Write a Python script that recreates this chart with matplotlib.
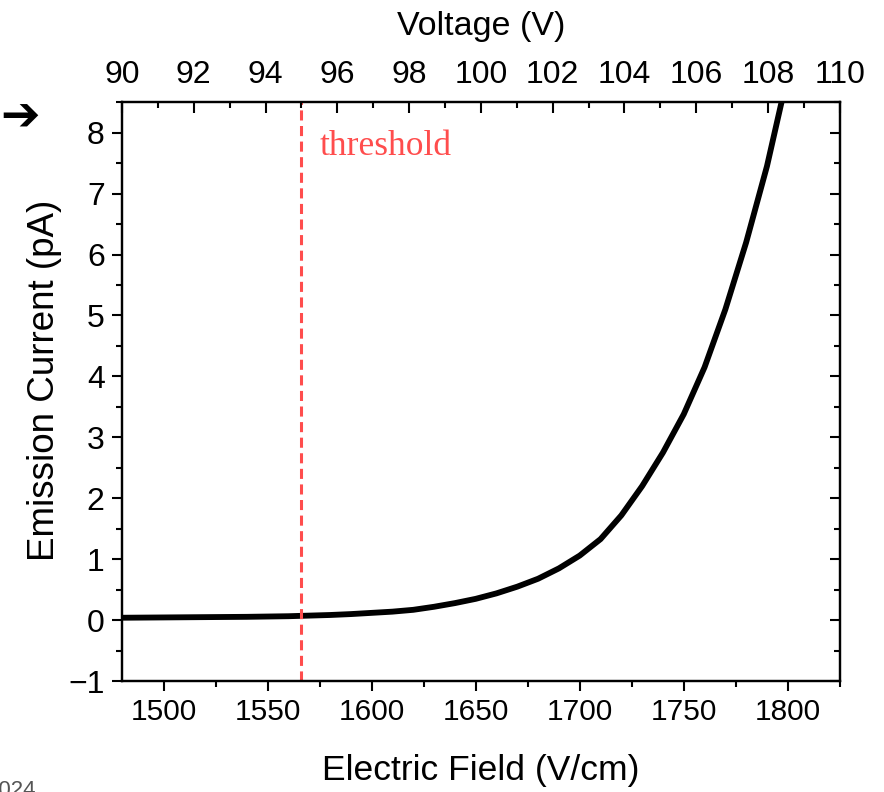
import matplotlib
matplotlib.use("Agg")
import matplotlib.pyplot as plt
from matplotlib.ticker import MultipleLocator

plt.rcParams['font.family'] = ['Liberation Sans', 'DejaVu Sans']

# emission current vs field
field = [1480, 1500, 1520, 1540, 1560, 1570, 1580, 1590, 1600, 1610, 1620,
         1630, 1640, 1650, 1660, 1670, 1680, 1690, 1700, 1710, 1720, 1730,
         1740, 1750, 1760, 1770, 1780, 1790, 1797]
current = [0.04, 0.045, 0.05, 0.055, 0.065, 0.075, 0.085, 0.10, 0.12, 0.14,
           0.17, 0.22, 0.28, 0.35, 0.44, 0.55, 0.68, 0.85, 1.06, 1.33, 1.72,
           2.2, 2.75, 3.38, 4.15, 5.1, 6.2, 7.45, 8.5]

threshold_field = 1566
voltage_range = [90, 110]
field_range = [1480, 1825]

fig = plt.figure(figsize=(8.84, 7.92), dpi=100)
ax = fig.add_axes([0.138, 0.140, 0.812, 0.731])

ax.plot(field, current, color='black', lw=4.2, solid_capstyle='butt',
        solid_joinstyle='round')
ax.axvline(threshold_field, color='#ff4d4d', lw=2.2, linestyle=(0, (3.3, 1.8)))
ax.text(1575, 7.64, 'threshold', color='#ff4d4d', fontsize=25.5,
        family=['Liberation Serif'])

ax.set_xlim(field_range)
ax.set_ylim(-1, 8.5)
ax.xaxis.set_major_locator(MultipleLocator(50))
ax.xaxis.set_minor_locator(MultipleLocator(25))
ax.yaxis.set_major_locator(MultipleLocator(1))
ax.yaxis.set_minor_locator(MultipleLocator(0.5))
ax.tick_params(axis='both', which='major', direction='out', length=7.5, width=1.5,
               pad=5)
ax.tick_params(axis='both', which='minor', direction='out', length=4, width=1.5)
ax.tick_params(axis='x', labelsize=21.5)
ax.tick_params(axis='y', labelsize=23)
ax.tick_params(axis='y', which='both', right=True, labelright=False)
ax.set_xlabel('Electric Field (V/cm)', fontsize=25.5, labelpad=20)
ax.set_ylabel('Emission Current (pA)', fontsize=26.5)
ax.yaxis.set_label_coords(-0.083, 0.52)
for sp in ax.spines.values():
    sp.set_linewidth(1.6)

# right side ticks point inward
for t in ax.yaxis.get_major_ticks() + ax.yaxis.get_minor_ticks():
    t.tick2line.set_marker(0)

top = ax.twiny()
top.set_xlim(voltage_range)
top.xaxis.set_major_locator(MultipleLocator(2))
top.xaxis.set_minor_locator(MultipleLocator(1))
top.tick_params(axis='x', which='major', direction='in', length=8, width=1.5,
                labelsize=23, pad=9)
top.tick_params(axis='x', which='minor', direction='in', length=4.5, width=1.5)
top.set_xlabel('Voltage (V)', fontsize=24.5, labelpad=18)
for sp in top.spines.values():
    sp.set_linewidth(1.6)

fig.text(0.0, 0.851, '\u2794', fontsize=34, color='black',
         family=['DejaVu Sans'], va='center', ha='left', weight='bold')
fig.text(36 / 884, 12 / 792, '2024', fontsize=16, color='#555555',
         ha='right', va='top')

fig.savefig('out.png', dpi=100)
